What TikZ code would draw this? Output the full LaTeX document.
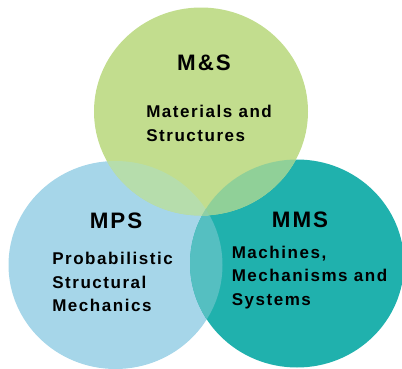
\documentclass[tikz,border=0pt]{standalone}
\usepackage{fontspec}
\newfontfamily\vennfont[LetterSpace=9]{Liberation Sans}

\definecolor{msgreen}{HTML}{C2DD8E}
\definecolor{mpsblue}{HTML}{A6D6E9}
\definecolor{mmsteal}{HTML}{20B1AD}
\definecolor{gbmix}{HTML}{B6DDAC}
\definecolor{gtmix}{HTML}{90D098}
\definecolor{btmix}{HTML}{55BFC1}
\definecolor{allmix}{HTML}{8ECFA6}

\tikzset{
  title/.style={font=\vennfont\bfseries\fontsize{15.9}{19}\selectfont, inner sep=0pt, anchor=base},
  body/.style={font=\vennfont\bfseries\fontsize{12.1}{16.6}\selectfont, inner sep=0pt, align=left, anchor=base west},
  ring/.style={x radius=107, y radius=104}
}

\begin{document}
\begin{tikzpicture}[x=0.025cm, y=-0.025cm]
\useasboundingbox (0,0) rectangle (402,369);

\coordinate (ms) at (201,111.5);
\coordinate (mps) at (115.5,265);
\coordinate (mms) at (297,263.5);

%drawing circles
\fill[mpsblue] (mps) circle[ring];
\fill[mmsteal] (mms) circle[ring];
\begin{scope}
\clip (mps) circle[ring];
\fill[btmix] (mms) circle[ring];
\end{scope}
\fill[msgreen] (ms) circle[ring];

%overlaps with the top circle
\begin{scope}
\clip (ms) circle[ring];
\fill[gbmix] (mps) circle[ring];
\fill[gtmix] (mms) circle[ring];
\clip (mps) circle[ring];
\fill[allmix] (mms) circle[ring];
\end{scope}

%labels (body anchors sit on the last line)
\node[title] (mstitle) at (204,70.7) {M\&S};
\node[body] (mstext) at (146,141) {Materials and\\Structures};

\node[title] (mpstitle) at (116,228) {MPS};
\node[body] (mpstext) at (52,311.5) {Probabilistic\\Structural\\Mechanics};

\node[title] (mmstitle) at (300,227) {MMS};
\node[body] (mmstext) at (231.5,305) {Machines,\\Mechanisms and\\Systems};
\end{tikzpicture}
\end{document}
